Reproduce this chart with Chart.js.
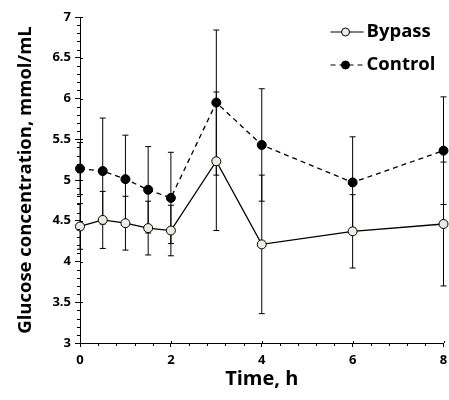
<!DOCTYPE html>
<html>
<head>
<title>Glucose chart</title>
<style>
  html, body { margin: 0; padding: 0; background: #fff; }
  #wrap { width: 449px; height: 400px; }
</style>
</head>
<body>
<div id="wrap"><canvas id="GlucoseChart"></canvas></div>
<script src="https://cdn.jsdelivr.net/npm/chart.js"></script>
<script>
// time points (h)
const times = [0, 0.5, 1, 1.5, 2, 3, 4, 6, 8];
// bypass group, mean and error
const bypass = [4.43, 4.51, 4.47, 4.41, 4.38, 5.23, 4.21, 4.37, 4.46];
const bypassErr = [0.28, 0.35, 0.33, 0.33, 0.31, 0.85, 0.85, 0.45, 0.76];
// control group, mean and error
const control = [5.14, 5.11, 5.01, 4.88, 4.78, 5.95, 5.43, 4.97, 5.36];
const controlErr = [0.32, 0.65, 0.54, 0.53, 0.56, 0.89, 0.69, 0.56, 0.66];
// tick labels
const xTicks = [0, 2, 4, 6, 8];
const yTicks = [3, 3.5, 4, 4.5, 5, 5.5, 6, 6.5, 7];

const seriesNames = ['Bypass', 'Control'];
const bypassFill = '#ecebdf';

Chart.defaults.font.family = "'Open Sans', sans-serif";
Chart.defaults.font.weight = 'bold';
Chart.defaults.color = '#000';

// error bars, drawn under the points
const errorBars = {
  id: 'errorBars',
  beforeDatasetsDraw(chart) {
    const ctx = chart.ctx;
    const xs = chart.scales.x, ys = chart.scales.y;
    const errs = [bypassErr, controlErr];
    ctx.save();
    ctx.strokeStyle = '#000';
    ctx.lineWidth = 1;
    chart.data.datasets.forEach((ds, i) => {
      ds.data.forEach((p, j) => {
        const x = xs.getPixelForValue(p.x);
        const top = ys.getPixelForValue(p.y + errs[i][j]);
        const bot = ys.getPixelForValue(p.y - errs[i][j]);
        ctx.beginPath();
        ctx.moveTo(x, top); ctx.lineTo(x, bot);
        ctx.moveTo(x - 3, top); ctx.lineTo(x + 3, top);
        ctx.moveTo(x - 3, bot); ctx.lineTo(x + 3, bot);
        ctx.stroke();
      });
    });
    ctx.restore();
  }
};

// minor ticks + inner half of the major ticks
const minorTicks = {
  id: 'minorTicks',
  afterDraw(chart) {
    const ctx = chart.ctx;
    const xs = chart.scales.x, ys = chart.scales.y;
    const left = chart.chartArea.left, bottom = chart.chartArea.bottom;
    ctx.save();
    ctx.strokeStyle = '#000';
    ctx.lineWidth = 1;
    ctx.beginPath();
    for (let k = 30; k <= 70; k++) {
      const y = Math.round(ys.getPixelForValue(k / 10)) + 0.5;
      if (k % 5 === 0) { ctx.moveTo(left, y); ctx.lineTo(left + 3, y); }
      else { ctx.moveTo(left - 3, y); ctx.lineTo(left, y); }
    }
    for (let k = 0; k <= 20; k++) {
      const v = k * 0.4;
      const x = Math.round(xs.getPixelForValue(v)) + 0.5;
      if (k % 5 === 0) { ctx.moveTo(x, bottom); ctx.lineTo(x, bottom - 2); }
      else { ctx.moveTo(x, bottom); ctx.lineTo(x, bottom + 3); }
    }
    ctx.stroke();
    ctx.restore();
  }
};

// legend in the top right corner, line + marker + name
const cornerLegend = {
  id: 'cornerLegend',
  afterDraw(chart) {
    const ctx = chart.ctx;
    const r = chart.chartArea.right;
    const rows = [
      { y: 32, dash: [], fill: bypassFill },
      { y: 65, dash: [5, 4], fill: '#000' }
    ];
    ctx.save();
    rows.forEach((row, i) => {
      const x0 = r - 113, x1 = r - 80, xm = r - 98;
      ctx.strokeStyle = '#000';
      ctx.lineWidth = 1.2;
      ctx.setLineDash(row.dash);
      ctx.beginPath();
      ctx.moveTo(x0, row.y); ctx.lineTo(x1, row.y);
      ctx.stroke();
      ctx.setLineDash([]);
      ctx.beginPath();
      ctx.arc(xm, row.y, 4, 0, Math.PI * 2);
      ctx.fillStyle = row.fill;
      ctx.fill();
      ctx.lineWidth = 1;
      ctx.stroke();
      ctx.fillStyle = '#000';
      ctx.font = "bold 18.5px 'Open Sans', sans-serif";
      ctx.textBaseline = 'middle';
      ctx.textAlign = 'left';
      ctx.fillText(seriesNames[i], r - 77, row.y);
    });
    ctx.restore();
  }
};

const ctx = document.getElementById('GlucoseChart');
new Chart(ctx, {
  type: 'line',
  data: {
    datasets: [{
      label: seriesNames[0],
      data: times.map((t, i) => ({ x: t, y: bypass[i] })),
      borderColor: '#000',
      borderWidth: 1.3,
      backgroundColor: bypassFill,
      pointBackgroundColor: bypassFill,
      pointBorderColor: '#000',
      pointBorderWidth: 1,
      pointRadius: 4.5,
      clip: false,
      tension: 0
    }, {
      label: seriesNames[1],
      data: times.map((t, i) => ({ x: t, y: control[i] })),
      borderColor: '#000',
      borderWidth: 1.3,
      borderDash: [5, 4],
      backgroundColor: '#000',
      pointBackgroundColor: '#000',
      pointBorderColor: '#000',
      pointBorderWidth: 1,
      pointRadius: 4.5,
      clip: false,
      tension: 0
    }]
  },
  options: {
    responsive: true,
    maintainAspectRatio: false,
    animation: false,
    layout: { padding: { top: 17, right: 2, left: 0, bottom: 0 } },
    plugins: {
      legend: { display: false },
      tooltip: { enabled: false }
    },
    scales: {
      x: {
        type: 'linear',
        min: 0, max: 8,
        afterBuildTicks: s => { s.ticks = xTicks.map(v => ({ value: v })); },
        afterFit: s => { s.height = 57; s.paddingLeft = 0; s.paddingRight = 0; },
        ticks: { font: { size: 13, weight: 'bold' }, padding: 5, maxRotation: 0 },
        grid: { drawOnChartArea: false, color: '#000', tickLength: 4, tickWidth: 1 },
        border: { color: '#000', width: 1 },
        title: { display: true, text: 'Time, h', font: { size: 20, weight: 'bold' }, padding: { top: 0, bottom: 9 } }
      },
      y: {
        min: 3, max: 7,
        afterBuildTicks: s => { s.ticks = yTicks.map(v => ({ value: v })); },
        afterFit: s => { s.width = 80; s.paddingTop = 0; s.paddingBottom = 0; },
        ticks: { font: { size: 13, weight: 'bold' }, padding: 4, callback: v => String(v) },
        grid: { drawOnChartArea: false, color: '#000', tickLength: 5, tickWidth: 1 },
        border: { color: '#000', width: 1 },
        title: { display: true, text: 'Glucose concentration, mmol/mL', font: { size: 18.5, weight: 'bold' }, padding: { top: 15, bottom: 0 } }
      }
    }
  },
  plugins: [errorBars, minorTicks, cornerLegend]
});
</script>
</body>
</html>
